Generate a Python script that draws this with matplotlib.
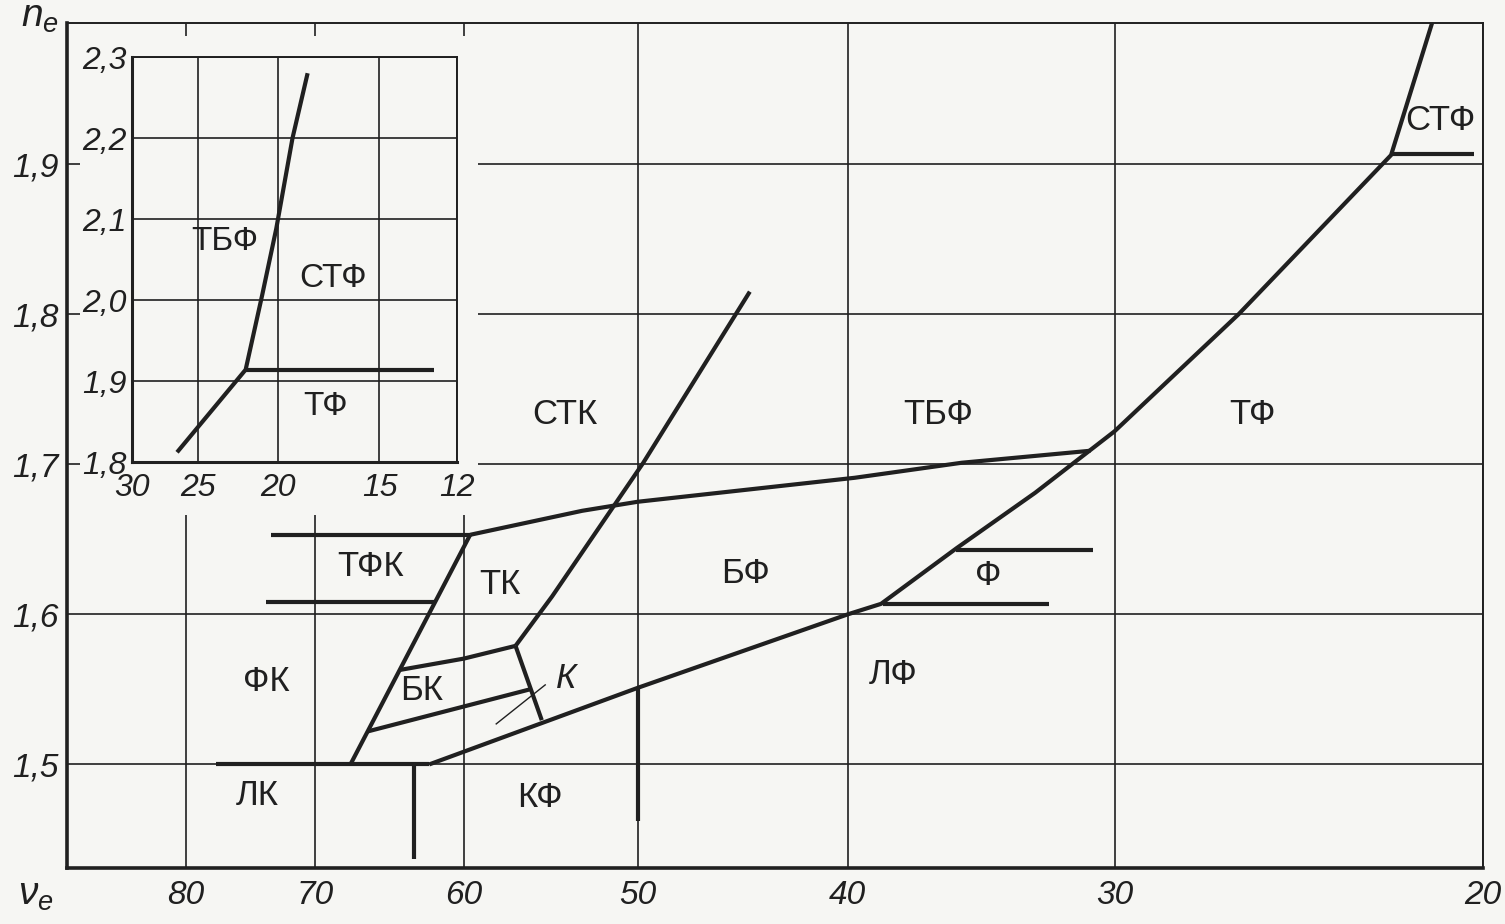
import numpy as np
import matplotlib
matplotlib.use("Agg")
import matplotlib.pyplot as plt
from matplotlib.patches import Rectangle

# Glass-type map n_e vs nu_e (boundaries between the glass families)

# main map: boundary polylines, (nu_e, n_e)
lk_line_nu = [77.5, 62.2];             lk_line_n = [1.5, 1.5]
fk_edge_nu = [67.5, 59.6];             fk_edge_n = [1.5, 1.653]
tfk_top_nu = [73.3, 59.6];             tfk_top_n = [1.653, 1.653]
tfk_bot_nu = [73.65, 61.8];            tfk_bot_n = [1.6085, 1.6085]
tk_top_nu = [59.6, 53.0, 50.0, 39.7, 35.4, 30.8]
tk_top_n = [1.653, 1.669, 1.675, 1.691, 1.701, 1.709]
stk_edge_nu = [56.84, 54.7, 49.7, 44.4]
stk_edge_n = [1.579, 1.612, 1.701, 1.815]
bk_top_nu = [64.1, 60.0, 56.84];       bk_top_n = [1.563, 1.5705, 1.579]
bk_bot_nu = [66.3, 56.0];              bk_bot_n = [1.522, 1.55]
k_edge_nu = [56.84, 55.3];             k_edge_n = [1.579, 1.5295]
lf_edge_nu = [62.2, 50.0, 40.0, 38.6, 35.6, 32.7, 30.0, 26.2, 22.15, 21.1]
lf_edge_n = [1.5, 1.551, 1.6, 1.607, 1.644, 1.681, 1.722, 1.8, 1.906, 2.0]
f_bot_nu = [38.5, 32.2];               f_bot_n = [1.607, 1.607]
f_top_nu = [35.6, 30.7];               f_top_n = [1.643, 1.643]
stf_step_nu = [22.15, 20.2];           stf_step_n = [1.907, 1.907]
lk_kf_nu = [63.2, 63.2];               lk_kf_n = [1.5, 1.437]
kf_lf_nu = [50.0, 50.0];               kf_lf_n = [1.551, 1.462]
k_pointer_nu = [58.0, 55.1];           k_pointer_n = [1.527, 1.553]

region_names = ["СТК", "ТБФ", "ТФ", "СТФ", "ТФК", "ТК", "БФ", "Ф", "ФК", "БК", "ЛФ", "ЛК", "КФ"]
region_nu = [53.95, 36.3, 25.8, 20.97, 66.1, 57.8, 44.6, 34.4, 73.65, 62.7, 38.1, 74.3, 55.4]
region_n = [1.733, 1.733, 1.733, 1.929, 1.632, 1.620, 1.627, 1.626, 1.555, 1.549, 1.560, 1.4795, 1.478]
k_label_nu, k_label_n = 54.5, 1.557

nu_ticks = [80, 70, 60, 50, 40, 30, 20]
n_ticks = [1.5, 1.6, 1.7, 1.8, 1.9]
n_tick_labels = ["1,5", "1,6", "1,7", "1,8", "1,9"]

# inset: high-index flints
ins_edge_nu = [26.5, 21.9, 20.9, 20.1, 19.2, 18.4]
ins_edge_n = [1.812, 1.914, 2.007, 2.088, 2.2, 2.28]
ins_step_nu = [21.85, 12.84];          ins_step_n = [1.913, 1.913]
ins_names = ["ТБФ", "СТФ", "ТФ"]
ins_name_nu = [23.2, 17.1, 17.5]
ins_name_n = [2.072, 2.027, 1.868]
ins_nu_ticks = [30, 25, 20, 15, 12]
ins_n_ticks = [1.8, 1.9, 2.0, 2.1, 2.2, 2.3]
ins_n_tick_labels = ["1,8", "1,9", "2,0", "2,1", "2,2", "2,3"]

FONT = ["Liberation Sans", "DejaVu Sans"]
INK = "#202020"
PAPER = "#f6f6f3"
plt.rcParams["font.family"] = FONT
plt.rcParams["mathtext.fontset"] = "custom"
plt.rcParams["mathtext.it"] = "Liberation Sans:italic"
plt.rcParams["mathtext.rm"] = "Liberation Sans"


# nu axis: power scale close to logarithmic, as on the printed nomogram
def fwd(v):
    return np.power(np.clip(v, 1e-9, None), 0.06)


def inv(u):
    return np.power(np.clip(u, 1e-9, None), 1 / 0.06)


def style_axes(ax, xt, xl, yt, yl, fs):
    ax.set_xscale("function", functions=(fwd, inv))
    ax.set_xticks(xt)
    ax.set_xticklabels(xl, fontsize=fs, style="italic", color=INK)
    ax.set_yticks(yt)
    ax.set_yticklabels(yl, fontsize=fs, style="italic", color=INK)
    ax.minorticks_off()
    ax.set_facecolor(PAPER)
    ax.set_axisbelow(True)
    ax.grid(True, color=INK, lw=1.2)


fig = plt.figure(figsize=(15.05, 9.24), dpi=100, facecolor=PAPER)
ax = fig.add_axes([0.04452, 0.06061, 0.94086, 0.91450])
style_axes(ax, nu_ticks, [str(t) for t in nu_ticks], n_ticks, n_tick_labels, 24)
ax.set_xlim(90.3, 20)
ax.set_ylim(1.431, 1.994)
ax.tick_params(length=0)
ax.tick_params(axis="x", pad=9)
ax.tick_params(axis="y", pad=6)
for side, w in [("left", 2.6), ("bottom", 2.6), ("top", 1.4), ("right", 1.4)]:
    ax.spines[side].set_linewidth(w)
    ax.spines[side].set_color(INK)

# blank area behind the inset (grid stubs remain along the frame)
ax.add_patch(Rectangle((0.0092, 0.4178), 0.2811, 0.5668, transform=ax.transAxes,
                       facecolor=PAPER, edgecolor="none", zorder=1))

thick = dict(color=INK, lw=3.0, solid_capstyle="butt", zorder=3)
for xs, ys in [(lk_line_nu, lk_line_n), (fk_edge_nu, fk_edge_n), (tfk_top_nu, tfk_top_n),
               (tfk_bot_nu, tfk_bot_n), (tk_top_nu, tk_top_n), (stk_edge_nu, stk_edge_n),
               (bk_top_nu, bk_top_n), (bk_bot_nu, bk_bot_n), (k_edge_nu, k_edge_n),
               (lf_edge_nu, lf_edge_n), (f_bot_nu, f_bot_n), (f_top_nu, f_top_n),
               (stf_step_nu, stf_step_n), (lk_kf_nu, lk_kf_n), (kf_lf_nu, kf_lf_n)]:
    ax.plot(xs, ys, **thick)
ax.plot(k_pointer_nu, k_pointer_n, color=INK, lw=1.0, zorder=3)

for name, x, y in zip(region_names, region_nu, region_n):
    ax.text(x, y, name, fontsize=25, color=INK, ha="center", va="center", zorder=4)
ax.text(k_label_nu, k_label_n, "К", fontsize=25, style="italic", color=INK,
        ha="left", va="center", zorder=4)

fig.text(0.0266, 0.982, r"$n_e$", fontsize=28, color=INK, ha="center", va="center")
fig.text(0.0235, 0.031, r"$\nu_e$", fontsize=28, color=INK, ha="center", va="center")

# inset
ins = fig.add_axes([0.08771, 0.5, 0.21595, 0.43831], zorder=5)
style_axes(ins, ins_nu_ticks, [str(t) for t in ins_nu_ticks],
           ins_n_ticks, ins_n_tick_labels, 23)
ins.set_xlim(30, 12)
ins.set_ylim(1.8, 2.3)
ins.tick_params(length=0)
ins.tick_params(axis="x", pad=8)
ins.tick_params(axis="y", pad=4)
for side, w in [("left", 2.2), ("bottom", 2.2), ("top", 1.4), ("right", 1.4)]:
    ins.spines[side].set_linewidth(w)
    ins.spines[side].set_color(INK)
ins.plot(ins_edge_nu, ins_edge_n, **thick)
ins.plot(ins_step_nu, ins_step_n, **thick)
for name, x, y in zip(ins_names, ins_name_nu, ins_name_n):
    ins.text(x, y, name, fontsize=24, color=INK, ha="center", va="center", zorder=4)

fig.savefig("out.png", dpi=100, facecolor=PAPER)
